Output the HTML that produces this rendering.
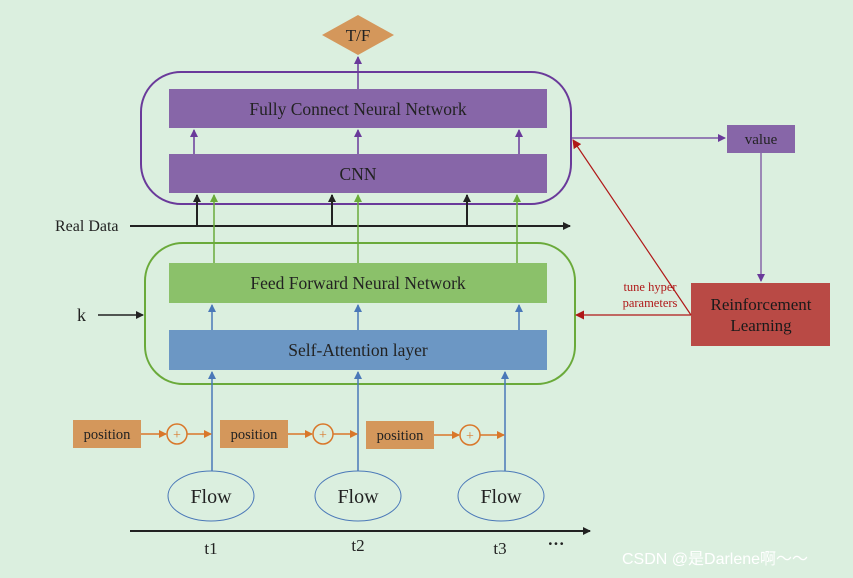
<!DOCTYPE html>
<html><head><meta charset="utf-8"><style>body{margin:0}svg{display:block}</style></head><body>
<svg width="853" height="578" viewBox="0 0 853 578" xmlns="http://www.w3.org/2000/svg" font-family="Liberation Serif, serif">
<defs>
<marker id="ap" markerWidth="8" markerHeight="8" refX="7" refY="4" orient="auto" markerUnits="userSpaceOnUse"><path d="M0,0L8,4L0,8z" fill="#6a3a9a"/></marker>
<marker id="ak" markerWidth="8" markerHeight="8" refX="7" refY="4" orient="auto" markerUnits="userSpaceOnUse"><path d="M0,0L8,4L0,8z" fill="#222"/></marker>
<marker id="ag" markerWidth="8" markerHeight="8" refX="7" refY="4" orient="auto" markerUnits="userSpaceOnUse"><path d="M0,0L8,4L0,8z" fill="#6aaa3a"/></marker>
<marker id="ab" markerWidth="8" markerHeight="8" refX="7" refY="4" orient="auto" markerUnits="userSpaceOnUse"><path d="M0,0L8,4L0,8z" fill="#4a78b8"/></marker>
<marker id="ao" markerWidth="8" markerHeight="8" refX="7" refY="4" orient="auto" markerUnits="userSpaceOnUse"><path d="M0,0L8,4L0,8z" fill="#d9772a"/></marker>
<marker id="ar" markerWidth="9" markerHeight="9" refX="8" refY="4.5" orient="auto" markerUnits="userSpaceOnUse"><path d="M0,0L9,4.5L0,9z" fill="#b01818"/></marker>
</defs>
<rect width="853" height="578" fill="#dbefdf"/>
<polygon points="322,35 358,15 394,35 358,55" fill="#d4975b"/>
<text x="358" y="41" font-size="17" text-anchor="middle" fill="#222">T/F</text>
<line x1="358" y1="89" x2="358" y2="57" stroke="#6a3a9a" stroke-width="1.5" marker-end="url(#ap)"/>
<rect x="141" y="72" width="430" height="132" rx="40" fill="none" stroke="#6a3a9a" stroke-width="2"/>
<rect x="169" y="89" width="378" height="39" fill="#8766a8"/>
<text x="358" y="115" font-size="17.5" text-anchor="middle" fill="#222">Fully Connect Neural Network</text>
<rect x="169" y="154" width="378" height="39" fill="#8766a8"/>
<text x="358" y="180" font-size="17.5" text-anchor="middle" fill="#222">CNN</text>
<g stroke="#6a3a9a" stroke-width="1.5" marker-end="url(#ap)">
<line x1="194" y1="154" x2="194" y2="130"/><line x1="358" y1="154" x2="358" y2="130"/><line x1="519" y1="154" x2="519" y2="130"/></g>
<text x="55" y="231" font-size="16" fill="#222">Real Data</text>
<line x1="130" y1="226" x2="570" y2="226" stroke="#222" stroke-width="2" marker-end="url(#ak)"/>
<g stroke="#222" stroke-width="2" marker-end="url(#ak)">
<line x1="197" y1="226" x2="197" y2="195"/><line x1="332" y1="226" x2="332" y2="195"/><line x1="467" y1="226" x2="467" y2="195"/></g>
<g stroke="#6aaa3a" stroke-width="1.5" marker-end="url(#ag)">
<line x1="214" y1="263" x2="214" y2="195"/><line x1="358" y1="263" x2="358" y2="195"/><line x1="517" y1="263" x2="517" y2="195"/></g>
<rect x="145" y="243" width="430" height="141" rx="38" fill="none" stroke="#6aaa3a" stroke-width="2"/>
<rect x="169" y="263" width="378" height="40" fill="#8bc16a"/>
<text x="358" y="289" font-size="17.5" text-anchor="middle" fill="#222">Feed Forward Neural Network</text>
<rect x="169" y="330" width="378" height="40" fill="#6c97c4"/>
<text x="358" y="356" font-size="17.5" text-anchor="middle" fill="#222">Self-Attention layer</text>
<g stroke="#4a78b8" stroke-width="1.5" marker-end="url(#ab)">
<line x1="212" y1="330" x2="212" y2="305"/><line x1="358" y1="330" x2="358" y2="305"/><line x1="519" y1="330" x2="519" y2="305"/>
<line x1="212" y1="471" x2="212" y2="372"/><line x1="358" y1="471" x2="358" y2="372"/><line x1="505" y1="471" x2="505" y2="372"/></g>
<text x="77" y="321" font-size="18" fill="#222">k</text>
<line x1="98" y1="315" x2="143" y2="315" stroke="#222" stroke-width="1.5" marker-end="url(#ak)"/>
<g font-size="14.5" fill="#222" text-anchor="middle">
<rect x="73" y="420" width="68" height="28" fill="#d4975b"/><text x="107" y="439">position</text>
<rect x="220" y="420" width="68" height="28" fill="#d4975b"/><text x="254" y="439">position</text>
<rect x="366" y="421" width="68" height="28" fill="#d4975b"/><text x="400" y="440">position</text>
</g>
<g stroke="#d9772a" stroke-width="1.5" fill="none">
<line x1="141" y1="434" x2="166" y2="434" marker-end="url(#ao)"/><circle cx="177" cy="434" r="10"/><line x1="187" y1="434" x2="211" y2="434" marker-end="url(#ao)"/>
<line x1="288" y1="434" x2="312" y2="434" marker-end="url(#ao)"/><circle cx="323" cy="434" r="10"/><line x1="333" y1="434" x2="357" y2="434" marker-end="url(#ao)"/>
<line x1="434" y1="435" x2="459" y2="435" marker-end="url(#ao)"/><circle cx="470" cy="435" r="10"/><line x1="480" y1="435" x2="504" y2="435" marker-end="url(#ao)"/>
</g>
<g font-size="14" fill="#d9772a" text-anchor="middle"><text x="177" y="439">+</text><text x="323" y="439">+</text><text x="470" y="440">+</text></g>
<g fill="#dbefdf" stroke="#4a78b8" stroke-width="1">
<ellipse cx="211" cy="496" rx="43" ry="25"/><ellipse cx="358" cy="496" rx="43" ry="25"/><ellipse cx="501" cy="496" rx="43" ry="25"/></g>
<g font-size="20" fill="#222" text-anchor="middle"><text x="211" y="503">Flow</text><text x="358" y="503">Flow</text><text x="501" y="503">Flow</text></g>
<line x1="130" y1="531" x2="590" y2="531" stroke="#222" stroke-width="2" marker-end="url(#ak)"/>
<g font-size="17" fill="#222" text-anchor="middle"><text x="211" y="554">t1</text><text x="358" y="551">t2</text><text x="500" y="554">t3</text><text x="556" y="549" font-weight="bold">···</text></g>
<line x1="571" y1="138" x2="725" y2="138" stroke="#6a3a9a" stroke-width="1.2" marker-end="url(#ap)"/>
<rect x="727" y="125" width="68" height="28" fill="#8766a8"/>
<text x="761" y="144" font-size="15" text-anchor="middle" fill="#222">value</text>
<line x1="761" y1="153" x2="761" y2="281" stroke="#8766a8" stroke-width="1.5" marker-end="url(#ap)"/>
<rect x="691" y="283" width="139" height="63" fill="#b94a45"/>
<text x="761" y="310" font-size="17" text-anchor="middle" fill="#1a1a1a">Reinforcement</text>
<text x="761" y="331" font-size="17" text-anchor="middle" fill="#1a1a1a">Learning</text>
<line x1="691" y1="315" x2="576" y2="315" stroke="#b01818" stroke-width="1.2" marker-end="url(#ar)"/>
<line x1="691" y1="315" x2="573" y2="140" stroke="#b01818" stroke-width="1.2" marker-end="url(#ar)"/>
<text x="650" y="291" font-size="12.5" text-anchor="middle" fill="#b01818">tune hyper</text>
<text x="650" y="307" font-size="12.5" text-anchor="middle" fill="#b01818">parameters</text>
<text x="622" y="564" font-size="16" fill="#ffffff" font-family="Liberation Sans, Noto Sans CJK SC, sans-serif">CSDN @是Darlene啊～～</text>
</svg>
</body></html>
